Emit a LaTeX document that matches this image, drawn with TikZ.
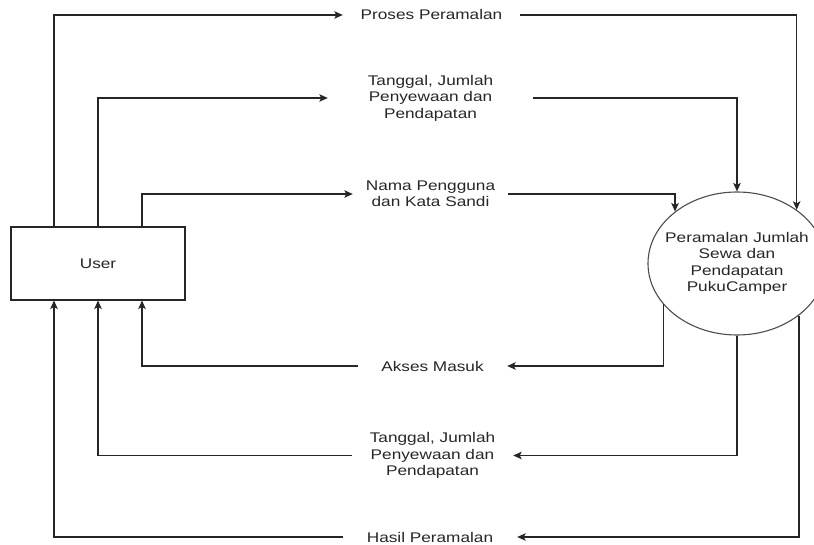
\documentclass[tikz,border=0pt]{standalone}
\usepackage{fontspec}
\setmainfont{Liberation Sans}[FakeStretch=1.23]
\usetikzlibrary{arrows.meta,shapes.geometric}

\begin{document}
\begin{tikzpicture}[x=1pt,y=-1pt,
    flow/.style={draw=black!85,line width=1.1pt,-{Stealth[length=8.5pt,width=7.5pt,inset=2pt]}},
    lbl/.style={inner sep=0pt,align=center,font=\fontsize{14}{16.5}\selectfont,text=black!85}]
  \useasboundingbox (0,0) rectangle (814,545);

  \node[draw=black!85,line width=1.1pt,minimum width=174pt,minimum height=73pt,lbl] (user) at (98,263.5) {User};
  \node[ellipse,draw=black!70,line width=1.1pt,inner sep=0pt,minimum width=178pt,minimum height=143pt,
        label={[lbl]center:Peramalan Jumlah\\Sewa dan\\Pendapatan\\PukuCamper}] (proc) at (737,263.5) {};

  \node[lbl,minimum width=177pt] (lblProses) at (431.5,15) {Proses Peramalan};
  \node[lbl,minimum width=205pt] (lblTglIn) at (430.5,98) {Tanggal, Jumlah\\Penyewaan dan\\Pendapatan};
  \node[lbl,minimum width=155pt] (lblNama) at (430.5,194) {Nama Pengguna\\dan Kata Sandi};
  \node[lbl,minimum width=149pt] (lblAkses) at (432.5,366) {Akses Masuk};
  \node[lbl,minimum width=161pt] (lblTglOut) at (432.5,455.5) {Tanggal, Jumlah\\Penyewaan dan\\Pendapatan};
  \node[lbl,minimum width=174pt] (lblHasil) at (430,537) {Hasil Peramalan};

  \draw[flow] ([xshift=-44pt]user.north) |- (lblProses);
  \draw[flow] (lblProses) -| (proc.42);
  \draw[flow] (user.north) |- (lblTglIn);
  \draw[flow] (lblTglIn) -| (proc.north);
  \draw[flow] ([xshift=44pt]user.north) |- (lblNama);
  \draw[flow] (lblNama) -| (proc.140);

  \draw[flow] (proc.209) |- (lblAkses);
  \draw[flow] (lblAkses) -| ([xshift=44pt]user.south);
  \draw[flow] (proc.south) |- (lblTglOut);
  \draw[flow] (lblTglOut) -| (user.south);
  \draw[flow] (proc.320) |- (lblHasil);
  \draw[flow] (lblHasil) -| ([xshift=-44pt]user.south);
\end{tikzpicture}
\end{document}
